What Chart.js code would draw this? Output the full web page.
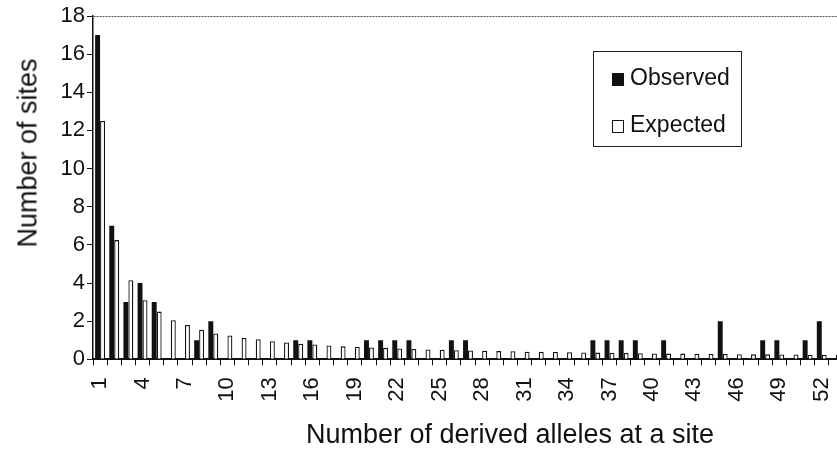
<!DOCTYPE html>
<html>
<head>
<meta charset="utf-8">
<script src="https://cdn.jsdelivr.net/npm/chart.js@4.4.1/dist/chart.umd.min.js"></script>
<style>
  html, body { margin: 0; padding: 0; background: #fff; overflow: hidden; }
  #wrap { position: relative; width: 845px; height: 465px; }
  #c { position: absolute; left: 0; top: 0; }
  .ttl { position: absolute; font-family: "Liberation Sans", Arial, sans-serif; font-size: 27px; color: #111;
         white-space: nowrap; transform: translate(-50%, -50%); }
  #ytitle { left: 28px; top: 153px; transform: translate(-50%, -50%) rotate(-90deg); }
  #xtitle { left: 510px; top: 434px; }
  #legend { position: absolute; left: 593px; top: 51px; width: 147px; height: 94px; border: 1.5px solid #222;
            font-family: "Liberation Sans", Arial, sans-serif; font-size: 23px; color: #111; }
  #legend .row { position: absolute; left: 18px; height: 26px; line-height: 26px; white-space: nowrap; }
  #legend .sw { display: inline-block; width: 12px; height: 13px; vertical-align: -1px; margin-right: 6px; box-sizing: border-box; }
</style>
</head>
<body>
<div id="wrap">
  <canvas id="c" width="845" height="465"></canvas>
  <div class="ttl" id="ytitle">Number of sites</div>
  <div class="ttl" id="xtitle">Number of derived alleles at a site</div>
  <div id="legend">
    <div class="row" style="top:12px"><span class="sw" style="background:#111"></span>Observed</div>
    <div class="row" style="top:59px"><span class="sw" style="background:#fff;border:1.3px solid #111"></span>Expected</div>
  </div>
</div>
<script>
// ── Site frequency spectrum: observed vs expected ──

const categories = ['1','2','3','4','5','6','7','8','9','10','11','12','13','14','15','16','17','18',
  '19','20','21','22','23','24','25','26','27','28','29','30','31','32','33','34','35','36',
  '37','38','39','40','41','42','43','44','45','46','47','48','49','50','51','52','53'];

const tickLabels = ['1','4','7','10','13','16','19','22','25','28','31','34','37','40','43','46','49','52'];

const observed = [17, 7, 3, 4, 3, 0, 0, 1, 2, 0, 0, 0, 0, 0, 1, 1, 0, 0,
  0, 1, 1, 1, 1, 0, 0, 1, 1, 0, 0, 0, 0, 0, 0, 0, 0, 1,
  1, 1, 1, 0, 1, 0, 0, 0, 2, 0, 0, 1, 1, 0, 1, 2, 0];

const expected = [12.5, 6.25, 4.15, 3.1, 2.5, 2.05, 1.8, 1.55, 1.35, 1.25, 1.12, 1.05, 0.95, 0.88, 0.82, 0.78, 0.72, 0.68,
  0.65, 0.62, 0.6, 0.57, 0.54, 0.52, 0.5, 0.48, 0.46, 0.45, 0.43, 0.42, 0.4, 0.39, 0.38, 0.37, 0.36, 0.35,
  0.34, 0.33, 0.32, 0.31, 0.3, 0.3, 0.29, 0.28, 0.28, 0.27, 0.26, 0.26, 0.25, 0.25, 0.24, 0.24, 0.23];

const FONT = '"Liberation Sans", Arial, sans-serif';

new Chart(document.getElementById('c').getContext('2d'), {
  type: 'bar',
  data: {
    labels: categories,
    datasets: [
      { label: 'Observed', data: observed, backgroundColor: '#111', borderWidth: 0,
        categoryPercentage: 0.7, barPercentage: 1 },
      { label: 'Expected', data: expected, backgroundColor: '#fff', borderColor: '#111', borderWidth: 1.3,
        categoryPercentage: 0.7, barPercentage: 1 }
    ]
  },
  options: {
    responsive: false, animation: false, devicePixelRatio: 1,
    layout: { padding: { top: 16, right: 2, left: 0, bottom: 0 } },
    plugins: { legend: { display: false }, tooltip: { enabled: false } },
    scales: {
      x: {
        grid: { offset: true, drawOnChartArea: false, color: '#111', tickLength: 6, lineWidth: 1 },
        border: { color: '#111', width: 2 },
        ticks: {
          autoSkip: false, maxRotation: 90, minRotation: 90, padding: 12, color: '#111',
          font: { family: FONT, size: 22 },
          callback: (v, i) => tickLabels.includes(categories[i]) ? categories[i] : ''
        },
        // pin the plot box: no extra side padding for rotated labels
        afterFit: s => { s.height = 105.7; s.paddingLeft = 0; s.paddingRight = 0; }
      },
      y: {
        min: 0, max: 18,
        ticks: { stepSize: 2, padding: 2, color: '#111', font: { family: FONT, size: 22 } },
        grid: { color: c => c.tick && c.tick.value === 18 ? '#555' : 'rgba(0,0,0,0)',
                tickColor: '#111', tickLength: 6, lineWidth: 1 },
        border: { color: '#111', width: 1.5, dash: [2, 1] },
        afterFit: s => { s.width = 93; }
      }
    }
  }
});
</script>
</body>
</html>
